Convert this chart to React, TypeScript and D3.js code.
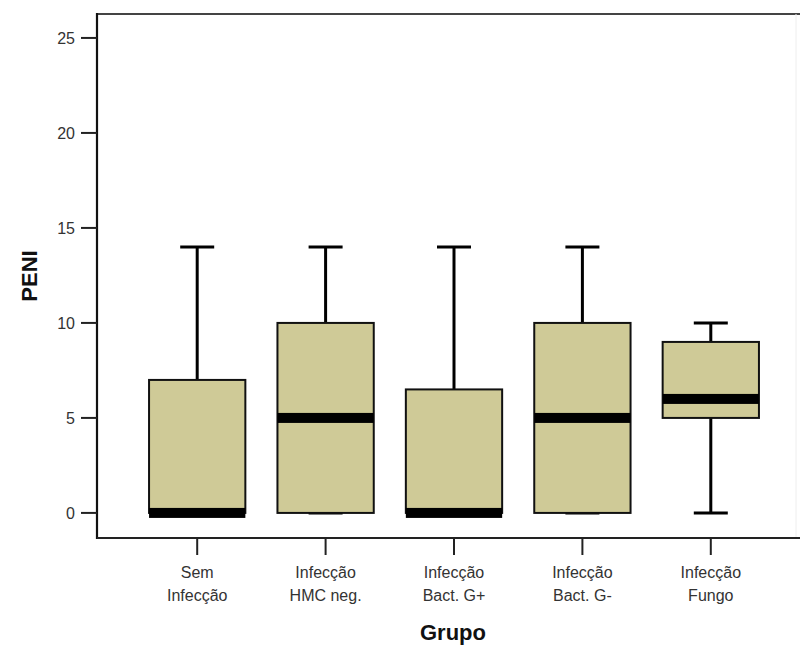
import React from 'react';
import * as d3 from 'd3';

// group labels (two lines each)
const groups = ['Sem|Infecção', 'Infecção|HMC neg.', 'Infecção|Bact. G+', 'Infecção|Bact. G-', 'Infecção|Fungo'];
const whiskerLow = [0, 0, 0, 0, 0];
const q1 = [0, 0, 0, 0, 5];
const medians = [0, 5, 0, 5, 6];
const q3 = [7, 10, 6.5, 10, 9];
const whiskerHigh = [14, 14, 14, 14, 10];
const yTicks = [0, 5, 10, 15, 20, 25];

const W = 800;
const H = 647;
const left = 97, top = 14, right = 796, bottom = 538;

const App = () => {
  const y = d3.scaleLinear().domain([-1.32, 26.26]).range([bottom, top]);
  const x = d3.scaleBand<string>().domain(groups).range([133, 775]).paddingInner(0.25).paddingOuter(0.125);
  const bw = x.bandwidth();
  const capW = 34;
  const font = 'Liberation Sans, Arial, sans-serif';

  return (
    <svg width={W} height={H} style={{ position: 'absolute', left: 0, top: 0, background: '#fff' }}>
      {/* frame */}
      <line x1={left} x2={800} y1={top} y2={top} stroke="#444" strokeWidth={2} />
      <line x1={right} x2={right} y1={top} y2={bottom} stroke="#eee" strokeWidth={1} />
      <line x1={left} x2={left} y1={top - 1} y2={bottom + 1} stroke="#111" strokeWidth={2.2} />
      <line x1={left} x2={800} y1={bottom} y2={bottom} stroke="#222" strokeWidth={2.2} />

      {/* y axis */}
      {yTicks.map(t => (
        <g key={t}>
          <line x1={81} x2={left} y1={y(t)} y2={y(t)} stroke="#222" strokeWidth={2} />
          <text x={75} y={y(t)} dy="0.35em" textAnchor="end" fontFamily={font} fontSize={16} fill="#333">{t}</text>
        </g>
      ))}
      <text transform={`translate(37,${(top + bottom) / 2}) rotate(-90)`} textAnchor="middle"
        fontFamily={font} fontSize={22} fontWeight="bold" fill="#111">PENI</text>

      {/* boxes */}
      {groups.map((g, i) => {
        const cx = (x(g) as number) + bw / 2;
        const x0 = x(g) as number;
        return (
          <g key={g}>
            <line x1={cx} x2={cx} y1={y(whiskerHigh[i])} y2={y(q3[i])} stroke="#000" strokeWidth={3} />
            <line x1={cx} x2={cx} y1={y(q1[i])} y2={y(whiskerLow[i])} stroke="#000" strokeWidth={3} />
            <line x1={cx - capW / 2} x2={cx + capW / 2} y1={y(whiskerHigh[i])} y2={y(whiskerHigh[i])} stroke="#000" strokeWidth={3} />
            <line x1={cx - capW / 2} x2={cx + capW / 2} y1={y(whiskerLow[i])} y2={y(whiskerLow[i])} stroke="#000" strokeWidth={3} />
            <rect x={x0} y={y(q3[i])} width={bw} height={y(q1[i]) - y(q3[i])} fill="#cfca97" stroke="#111" strokeWidth={2} />
            <rect x={x0} y={y(medians[i]) - 5} width={bw} height={10} fill="#000" />
          </g>
        );
      })}

      {/* x axis */}
      {groups.map(g => {
        const cx = (x(g) as number) + bw / 2;
        const [l1, l2] = g.split('|');
        return (
          <g key={g}>
            <line x1={cx} x2={cx} y1={bottom} y2={555} stroke="#222" strokeWidth={2} />
            <text x={cx} y={578} textAnchor="middle" fontFamily={font} fontSize={16} fill="#333">{l1}</text>
            <text x={cx} y={601} textAnchor="middle" fontFamily={font} fontSize={16} fill="#333">{l2}</text>
          </g>
        );
      })}
      <text x={453} y={640} textAnchor="middle" fontFamily={font} fontSize={22} fontWeight="bold" fill="#111">Grupo</text>
    </svg>
  );
};

export default App;
